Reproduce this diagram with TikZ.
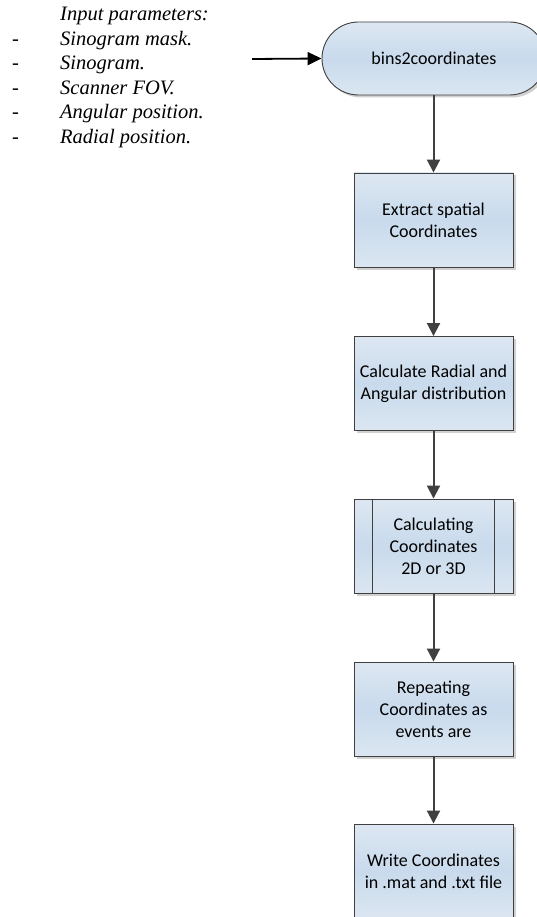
\documentclass[tikz,border=0pt]{standalone}
\usepackage{fontspec}
\setmainfont{Liberation Serif}
\newfontfamily\boxfont{Carlito}
\usetikzlibrary{arrows.meta,shadows}
\definecolor{edgegray}{RGB}{64,64,64}
\definecolor{filltop}{RGB}{221,231,242}
\definecolor{fillmid}{RGB}{200,218,236}
\definecolor{fillbot}{RGB}{219,230,241}
\tikzset{
  flowbox/.style={draw=edgegray, line width=0.9pt, top color=filltop, bottom color=fillbot, middle color=fillmid,
    minimum width=159pt, minimum height=94pt, inner sep=2pt, align=center,
    font=\boxfont\fontsize{18}{22}\selectfont,
    drop shadow={shadow xshift=2.5pt, shadow yshift=-2.5pt, fill=black!30, opacity=0.6}},
  termbox/.style={flowbox, minimum width=224pt, minimum height=73pt, rounded corners=36.5pt},
  flowarrow/.style={draw=edgegray, line width=2pt, -{Triangle[length=13pt,width=13pt]}},
  inarrow/.style={draw=black, line width=1.8pt, -{Triangle[length=14pt,width=13pt]}},
  paramtext/.style={anchor=base west, inner sep=0pt, font=\itshape\fontsize{20.5}{24}\selectfont},
  dashtext/.style={anchor=base west, inner sep=0pt, font=\fontsize{20.5}{24}\selectfont}
}
\begin{document}
\begin{tikzpicture}[x=1pt,y=-1pt]
\useasboundingbox (0,0) rectangle (537,917);
\clip (0,0) rectangle (537,917);
\fill[white] (0,0) rectangle (537,917);

% parameter list
\node[paramtext] (hdr) at (60,21) {Input parameters:};
\node[dashtext] (d1) at (12,45.5) {-};
\node[paramtext] (p1) at (60,45.5) {Sinogram mask.};
\node[dashtext] (d2) at (12,70) {-};
\node[paramtext] (p2) at (60,70) {Sinogram.};
\node[dashtext] (d3) at (12,94.5) {-};
\node[paramtext] (p3) at (60,94.5) {Scanner FOV.};
\node[dashtext] (d4) at (12,119) {-};
\node[paramtext] (p4) at (60,119) {Angular position.};
\node[dashtext] (d5) at (12,143.5) {-};
\node[paramtext] (p5) at (60,143.5) {Radial position.};

% flow
\node[termbox] (term) at (434,58.5) {bins2coordinates};
\node[flowbox] (b1) at (433.5,220) {Extract spatial\\Coordinates};
\node[flowbox] (b2) at (433.5,383.5) {Calculate Radial and\\Angular distribution};
\node[flowbox] (b3) at (433.5,546) {Calculating\\Coordinates\\2D or 3D};
\draw[edgegray, line width=0.9pt] ([xshift=19pt]b3.north west) -- ([xshift=19pt]b3.south west);
\draw[edgegray, line width=0.9pt] ([xshift=-19pt]b3.north east) -- ([xshift=-19pt]b3.south east);
\node[flowbox] (b4) at (433.5,709) {Repeating\\Coordinates as\\events are};
\node[flowbox] (b5) at (433.5,871) {Write Coordinates\\in .mat and .txt file};

\coordinate (in) at (252,59);
\draw[inarrow] (in) -- (term.west);
\draw[flowarrow] (term.south -| b1.north) -- (b1.north);
\draw[flowarrow] (b1) -- (b2);
\draw[flowarrow] (b2) -- (b3);
\draw[flowarrow] (b3) -- (b4);
\draw[flowarrow] (b4) -- (b5);
\end{tikzpicture}
\end{document}
